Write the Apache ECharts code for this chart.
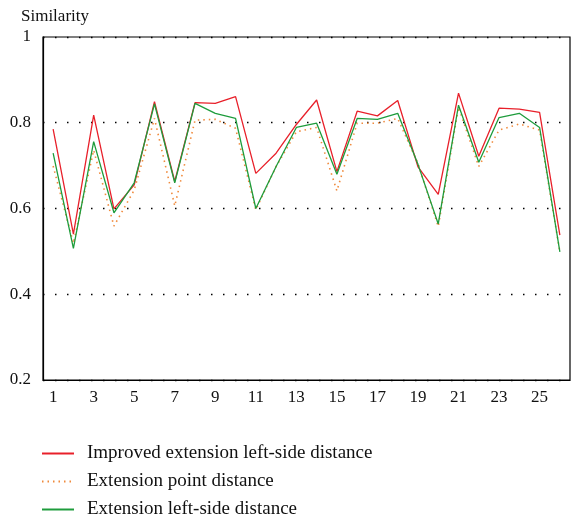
<!DOCTYPE html>
<html><head><meta charset="utf-8">
<script src="https://cdn.jsdelivr.net/npm/echarts@6/dist/echarts.min.js"></script>
<style>html,body{margin:0;padding:0;background:#fff}#c{width:571px;height:520px}</style>
</head><body><div id="c"></div>
<script>
var categories = ['1','2','3','4','5','6','7','8','9','10','11','12','13','14','15','16','17','18','19','20','21','22','23','24','25','26'];
var improvedLeftSide = [0.785,0.540,0.818,0.599,0.655,0.849,0.663,0.847,0.845,0.861,0.682,0.729,0.796,0.853,0.686,0.827,0.816,0.852,0.697,0.633,0.869,0.722,0.834,0.832,0.824,0.538];
var extensionPoint   = [0.699,0.519,0.736,0.559,0.643,0.810,0.606,0.806,0.808,0.787,0.597,0.698,0.779,0.789,0.641,0.799,0.799,0.810,0.705,0.558,0.836,0.698,0.783,0.797,0.783,0.499];
var extensionLeftSide= [0.729,0.507,0.756,0.590,0.660,0.844,0.660,0.845,0.822,0.810,0.600,0.698,0.789,0.799,0.680,0.810,0.808,0.822,0.703,0.564,0.841,0.708,0.812,0.822,0.789,0.499];
var seriesNames = ['Improved extension left-side distance','Extension point distance','Extension left-side distance'];

var font = 'Liberation Serif';
var chart = echarts.init(document.getElementById('c'));
chart.setOption({
  animation: false,
  grid: {left: 43, right: 1, top: 37, bottom: 140, show: true, borderColor: '#000', borderWidth: 1.2},
  xAxis: {
    type: 'category', data: categories, boundaryGap: true,
    axisLine: {lineStyle: {color: '#000', width: 1.2}}, axisTick: {show: false},
    axisLabel: {interval: 1, color: '#111', fontFamily: font, fontSize: 17, margin: 9}
  },
  yAxis: {
    type: 'value', min: 0.2, max: 1, interval: 0.2,
    name: 'Similarity', nameLocation: 'end', nameGap: 12,
    nameTextStyle: {color: '#111', fontFamily: font, fontSize: 17, align: 'left', padding: [0,0,0,-22]},
    axisLine: {show: true, lineStyle: {color: '#000', width: 1.2}}, axisTick: {show: false},
    axisLabel: {color: '#111', fontFamily: font, fontSize: 17, margin: 12, formatter: function(v){return String(+v.toFixed(1));}},
    splitLine: {show: true, lineStyle: {color: '#000', type: [1.5, 10.5], width: 1.3}}
  },
  legend: {
    orient: 'vertical', left: 36, top: 439, height: 100, width: 520, itemWidth: 32, itemHeight: 14, itemGap: 9,
    itemStyle: {color: 'rgba(0,0,0,0)', borderWidth: 0},
    textStyle: {fontFamily: font, fontSize: 19, lineHeight: 19, color: '#111', padding: [0,0,0,8]},
    data: seriesNames
  },
  series: [
    {name: seriesNames[0], type: 'line', data: improvedLeftSide, symbol: 'none', z: 3,
     lineStyle: {color: '#e8202a', width: 1.3}, itemStyle: {color: '#e8202a'}},
    {name: seriesNames[1], type: 'line', data: extensionPoint, symbol: 'none', z: 2,
     lineStyle: {color: '#f08a3c', width: 1.6, type: [1.5, 4]}, itemStyle: {color: '#f08a3c'}},
    {name: seriesNames[2], type: 'line', data: extensionLeftSide, symbol: 'none', z: 4,
     lineStyle: {color: '#1e9c3c', width: 1.3}, itemStyle: {color: '#1e9c3c'}}
  ]
});
</script></body></html>
